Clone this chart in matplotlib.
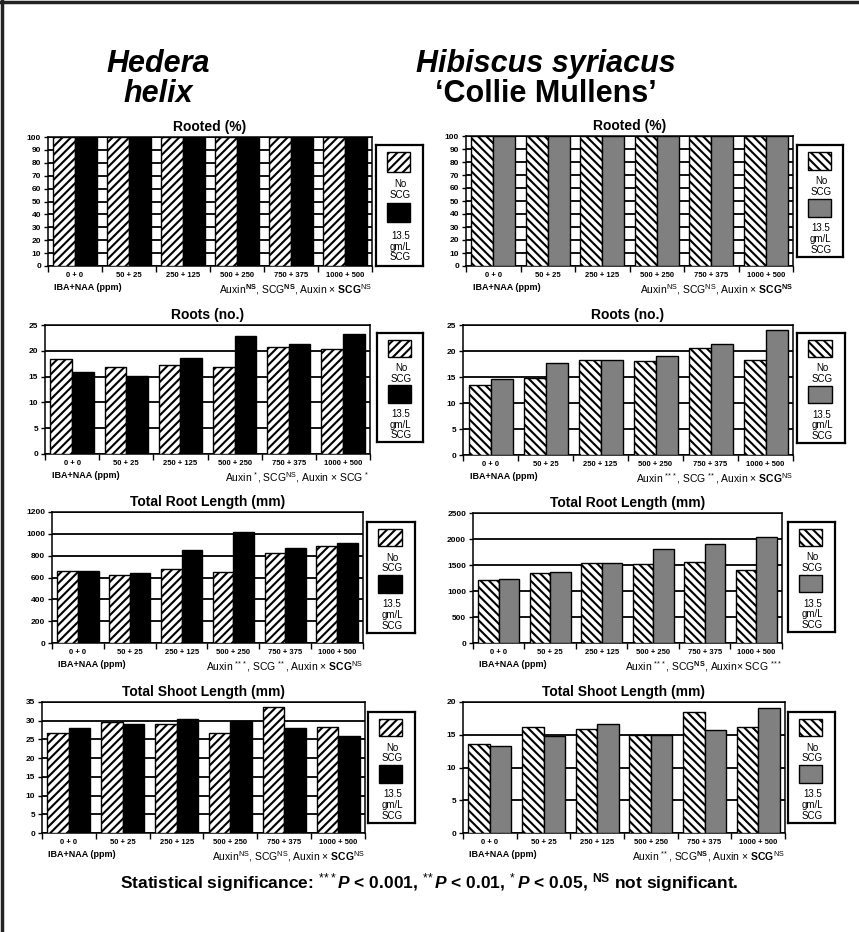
import numpy as np
import matplotlib
matplotlib.use('Agg')
import matplotlib.pyplot as plt
import matplotlib.patches as patches
from matplotlib.ticker import FixedLocator, MultipleLocator

plt.rcParams['font.family'] = ['Liberation Sans', 'DejaVu Sans']
plt.rcParams['mathtext.fontset'] = 'custom'
plt.rcParams['mathtext.rm'] = 'Liberation Sans'
plt.rcParams['mathtext.it'] = 'Liberation Sans:italic'
plt.rcParams['mathtext.bf'] = 'Liberation Sans:bold'
plt.rcParams['mathtext.bfit'] = 'Liberation Sans:italic:bold'
plt.rcParams['hatch.linewidth'] = 1.5

categories = ['0 + 0', '50 + 25', '250 + 125', '500 + 250', '750 + 375', '1000 + 500']

# Hedera helix
hed_rooted_none = [100, 100, 100, 100, 100, 100]
hed_rooted_scg = [100, 100, 100, 100, 100, 100]
hed_roots_none = [18.4, 16.9, 17.3, 16.9, 20.7, 20.3]
hed_roots_scg = [15.9, 15.1, 18.6, 22.9, 21.3, 23.3]
hed_trl_none = [655, 625, 680, 646, 826, 890]
hed_trl_scg = [662, 640, 848, 1018, 869, 918]
hed_tsl_none = [26.6, 29.7, 29.0, 26.6, 33.7, 28.3]
hed_tsl_scg = [28.0, 29.2, 30.5, 29.9, 28.0, 26.0]

# Hibiscus syriacus 'Collie Mullens'
hib_rooted_none = [100, 100, 100, 100, 100, 100]
hib_rooted_scg = [100, 100, 100, 100, 100, 100]
hib_roots_none = [13.5, 14.9, 18.2, 18.0, 20.6, 18.3]
hib_roots_scg = [14.7, 17.6, 18.2, 19.1, 21.3, 24.0]
hib_trl_none = [1212, 1339, 1530, 1524, 1556, 1403]
hib_trl_scg = [1224, 1371, 1537, 1811, 1913, 2041]
hib_tsl_none = [13.6, 16.2, 15.9, 14.9, 18.4, 16.2]
hib_tsl_scg = [13.3, 14.8, 16.6, 14.9, 15.8, 19.1]

panel_titles = ['Rooted (%)', 'Roots (no.)', 'Total Root Length (mm)', 'Total Shoot Length (mm)']

NS = r'$^{\mathrm{NS}}$'
NSB = r'$^{\mathbf{NS}}$'
SCGB = r'$\mathbf{SCG}$'
S1 = r'$^{*}$'
S2 = r'$^{*\!*}$'
S3 = r'$^{*\!*\!*}$'
hed_stats = [
    'Auxin' + NSB + ', SCG' + NSB + ', Auxin \u00d7 ' + SCGB + NS,
    'Auxin ' + S1 + ', SCG' + NS + ', Auxin \u00d7 SCG ' + S1,
    'Auxin ' + S3 + ', SCG ' + S2 + ', Auxin \u00d7 ' + SCGB + NS,
    'Auxin' + NS + ', SCG' + NS + ', Auxin \u00d7 ' + SCGB + NS,
]
hib_stats = [
    'Auxin' + NS + ', SCG' + NS + ', Auxin \u00d7 ' + SCGB + NSB,
    'Auxin ' + S3 + ', SCG ' + S2 + ', Auxin \u00d7 ' + SCGB + NS,
    'Auxin ' + S3 + ', SCG' + NSB + ', Auxin\u00d7 SCG ' + S3,
    'Auxin ' + S2 + ', SCG' + NSB + ', Auxin \u00d7 ' + SCGB + NS,
]

W, H = 859, 932


def pix(l, t, r, b):
    return [l / W, 1 - b / H, (r - l) / W, (b - t) / H]


def draw_panel(ax, lax, title, none_vals, scg_vals, ymax, ystep, hatch, fill, stats):
    x = np.arange(len(categories))
    ax.bar(x - 0.2, none_vals, 0.4, color='white', edgecolor='black',
           hatch=hatch, linewidth=1.0, zorder=3)
    ax.bar(x + 0.2, scg_vals, 0.4, color=fill, edgecolor='black',
           linewidth=1.0, zorder=3)
    ax.set_xlim(-0.5, len(categories) - 0.5)
    ax.set_ylim(0, ymax)
    ax.yaxis.set_major_locator(MultipleLocator(ystep))
    ax.yaxis.grid(True, color='black', linewidth=1.3)
    ax.set_axisbelow(True)
    ax.set_xticks(x)
    ax.set_xticklabels(categories, fontsize=5.5, fontweight='bold')
    ax.xaxis.set_minor_locator(FixedLocator(np.arange(-0.5, len(categories), 1)))
    ax.tick_params(axis='x', which='major', length=0, pad=4)
    ax.tick_params(axis='x', which='minor', length=4, width=1, direction='out')
    ax.tick_params(axis='y', length=3, width=1, pad=2)
    for lab in ax.get_yticklabels():
        lab.set_fontsize(6)
        lab.set_fontweight('bold')
    for s in ax.spines.values():
        s.set_linewidth(1.1)
        s.set_color('black')
    ax.set_title(title, fontsize=10, fontweight='bold', pad=4)
    ax.text(0.02, -0.165, 'IBA+NAA (ppm)', transform=ax.transAxes,
            ha='left', va='center', fontsize=6.5, fontweight='bold')
    ax.text(1.0, -0.18, stats, transform=ax.transAxes,
            ha='right', va='center', fontsize=7.5)

    # legend box
    lax.set_xlim(0, 1)
    lax.set_ylim(0, 1)
    lax.set_xticks([])
    lax.set_yticks([])
    for s in lax.spines.values():
        s.set_linewidth(1.6)
    lax.add_patch(patches.Rectangle((0.23, 0.78), 0.5, 0.16, facecolor='white',
                                    edgecolor='black', hatch=hatch, linewidth=1.0))
    lax.text(0.52, 0.63, 'No\nSCG', ha='center', va='center', fontsize=7,
             linespacing=1.1)
    lax.add_patch(patches.Rectangle((0.23, 0.36), 0.5, 0.16, facecolor=fill,
                                    edgecolor='black', linewidth=1.0))
    lax.text(0.52, 0.16, '13.5\ngm/L\nSCG', ha='center', va='center', fontsize=7,
             linespacing=1.1)


fig = plt.figure(figsize=(W / 100, H / 100), dpi=100)

# outer frame (left and top)
fig.add_artist(plt.Line2D([0.002, 0.002], [0, 1], transform=fig.transFigure,
                          color='#222222', linewidth=2.5))
fig.add_artist(plt.Line2D([0, 1], [0.998, 0.998], transform=fig.transFigure,
                          color='#222222', linewidth=2.5))

fig.text(158 / W, 1 - 64 / H, 'Hedera', ha='center', va='center', fontsize=22,
         fontweight='bold', style='italic')
fig.text(158 / W, 1 - 94 / H, 'helix', ha='center', va='center', fontsize=22,
         fontweight='bold', style='italic')
fig.text(546 / W, 1 - 64 / H, 'Hibiscus syriacus', ha='center', va='center', fontsize=22,
         fontweight='bold', style='italic')
fig.text(546 / W, 1 - 94 / H, '\u2018Collie Mullens\u2019', ha='center', va='center',
         fontsize=22, fontweight='bold')

left_axes = [(48, 137, 372, 266), (45, 325, 370, 454), (52, 512, 363, 643), (42, 702, 365, 833)]
left_leg = [(376, 145, 423, 266), (377, 333, 423, 442), (367, 522, 415, 633), (368, 712, 415, 823)]
right_axes = [(466, 136, 793, 266), (463, 325, 793, 455), (473, 513, 782, 643), (463, 702, 785, 833)]
right_leg = [(797, 145, 843, 257), (797, 333, 845, 443), (788, 522, 835, 632), (788, 712, 835, 823)]

hed_series = [(hed_rooted_none, hed_rooted_scg, 100, 10),
              (hed_roots_none, hed_roots_scg, 25, 5),
              (hed_trl_none, hed_trl_scg, 1200, 200),
              (hed_tsl_none, hed_tsl_scg, 35, 5)]
hib_series = [(hib_rooted_none, hib_rooted_scg, 100, 10),
              (hib_roots_none, hib_roots_scg, 25, 5),
              (hib_trl_none, hib_trl_scg, 2500, 500),
              (hib_tsl_none, hib_tsl_scg, 20, 5)]

for i in range(4):
    ax = fig.add_axes(pix(*left_axes[i]))
    lax = fig.add_axes(pix(*left_leg[i]))
    n, s, ymax, step = hed_series[i]
    draw_panel(ax, lax, panel_titles[i], n, s, ymax, step, '////', 'black', hed_stats[i])

    ax = fig.add_axes(pix(*right_axes[i]))
    lax = fig.add_axes(pix(*right_leg[i]))
    n, s, ymax, step = hib_series[i]
    draw_panel(ax, lax, panel_titles[i], n, s, ymax, step, '\\\\\\\\', '#808080', hib_stats[i])

fig.text(0.5, 1 - 883 / H,
         r'Statistical significance: $^{*\!*\!*}\mathbfit{P}$ < 0.001, $^{*\!*}\mathbfit{P}$ < 0.01, '
         r'$^{*}\,\mathbfit{P}$ < 0.05, $^{\mathbf{NS}}$ not significant.',
         ha='center', va='center', fontsize=12.5, fontweight='bold')

fig.savefig('out.png', dpi=100)
